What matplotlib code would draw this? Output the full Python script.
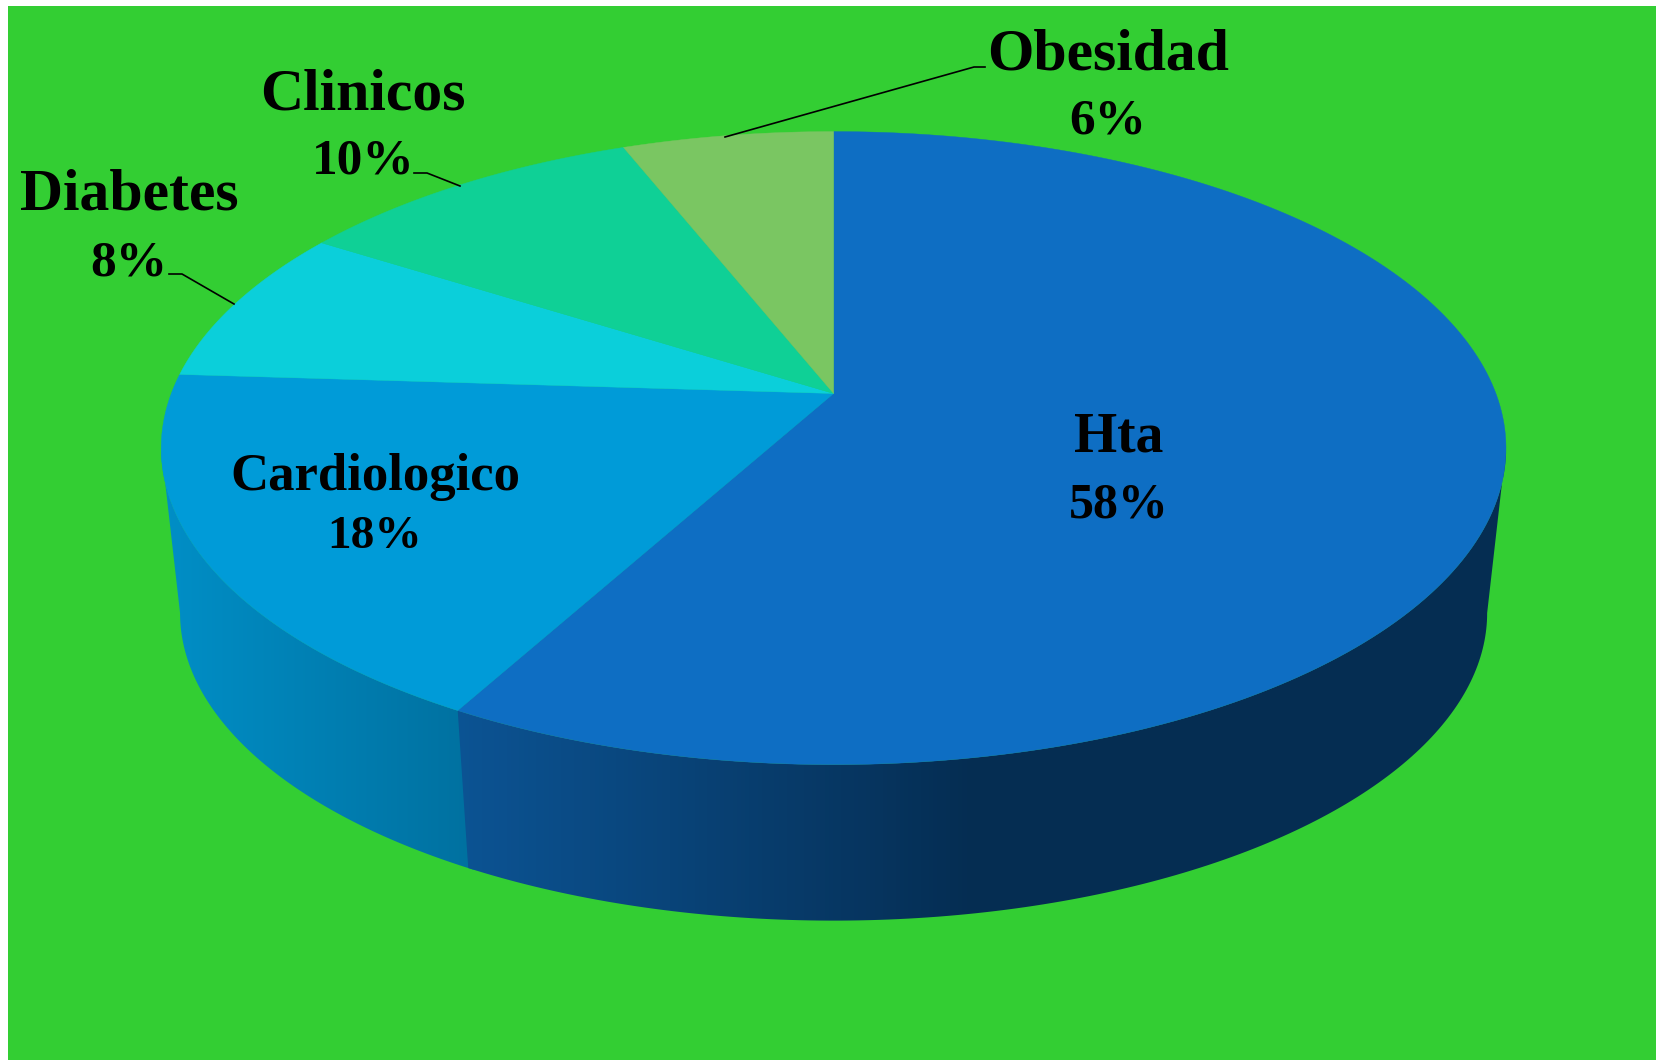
from matplotlib import pyplot as plt
from matplotlib.colors import LinearSegmentedColormap
from matplotlib.patches import Polygon, Rectangle
import numpy as np

names = ['Hta', 'Cardiologico', 'Diabetes', 'Clinicos', 'Obesidad']
values = [58, 18, 8, 10, 6]
colors = ['#0E6EC3', '#009BD8', '#0BCFDA', '#0FD096', '#7AC662']

# label baselines in pixels: name x, name y, percent y, font sizes
label_x = [1119, 375, 129, 363, 1108]
name_y = [452, 490, 210, 109, 70]
pct_y = [517, 548, 275, 173, 133]
name_size = [40, 38, 43, 43, 43]
pct_size = [36, 34, 37, 37, 37]

leaders = [
    ([169, 182, 234], [274, 274, 304]),
    ([414, 427, 460], [173, 173, 186]),
    ([985, 974, 725], [67, 67, 137]),
]

# perspective of the disc, pixels
cx, cy = 833.6, 393.5
A, B, k = 662.3, 307.1, 0.1725
rim_scale = 0.972
vanish_y = 6336


def top_rim(theta):
    t = np.radians(theta)
    w = 1 + k * np.cos(t)
    return cx + A * np.sin(t) / w, cy - B * np.cos(t) / w


def low_rim(theta):
    x, y = top_rim(theta)
    return cx + rim_scale * (x - cx), vanish_y + rim_scale * (y - vanish_y)


fig = plt.figure(figsize=(16.63, 10.6), dpi=100, facecolor='white')
ax = fig.add_axes([0, 0, 1, 1])
ax.add_patch(Rectangle((8, 6), 1648, 1054, color='#33CE33', lw=0, zorder=0))

edges = np.concatenate([[0], np.cumsum(values)]) * 3.6
side_limit = np.degrees(np.arccos(-k))

# side walls with a horizontal gradient, colours run left to right
# the Hta wall sits on top so the small overlap hides the seam
walls = [
    (side_limit, edges[1], ['#0C5596', '#052D52', '#052D52'], 440, 1510, 2),
    (edges[1] - 0.5, 360 - side_limit, ['#0090C8', '#00709F'], 150, 480, 1),
]
for start, end, ramp, x0, x1, z in walls:
    th = np.linspace(start, end, 150)
    ux, uy = top_rim(th)
    lx, ly = low_rim(th)
    pts = np.column_stack([np.r_[ux, lx[::-1]], np.r_[uy, ly[::-1]]])
    poly = Polygon(pts, closed=True, fc='none', ec='none')
    ax.add_patch(poly)
    cmap = LinearSegmentedColormap.from_list('side', ramp)
    im = ax.imshow(np.linspace(0, 1, 256).reshape(1, -1), extent=(x0, x1, 1060, 0),
                   cmap=cmap, aspect='auto', zorder=z)
    im.set_clip_path(poly)

# top of the pie
for i in range(len(values)):
    th = np.linspace(edges[i], edges[i + 1], 200)
    x, y = top_rim(th)
    pts = np.column_stack([np.r_[cx, x], np.r_[cy, y]])
    ax.add_patch(Polygon(pts, closed=True, fc=colors[i], ec=colors[i], lw=0.3, zorder=3))

for lx, ly in leaders:
    ax.plot(lx, ly, color='black', lw=1.2, zorder=4)

for i in range(len(names)):
    ax.text(label_x[i], name_y[i], names[i], family='Liberation Serif', weight='bold',
            fontsize=name_size[i], ha='center', va='baseline', zorder=5)
    ax.text(label_x[i], pct_y[i], str(values[i]) + '%', family='Liberation Serif', weight='bold',
            fontsize=pct_size[i], ha='center', va='baseline', zorder=5)

ax.set_xlim(0, 1663)
ax.set_ylim(1060, 0)
ax.axis('off')
fig.savefig('out.png', dpi=100, facecolor='white')
